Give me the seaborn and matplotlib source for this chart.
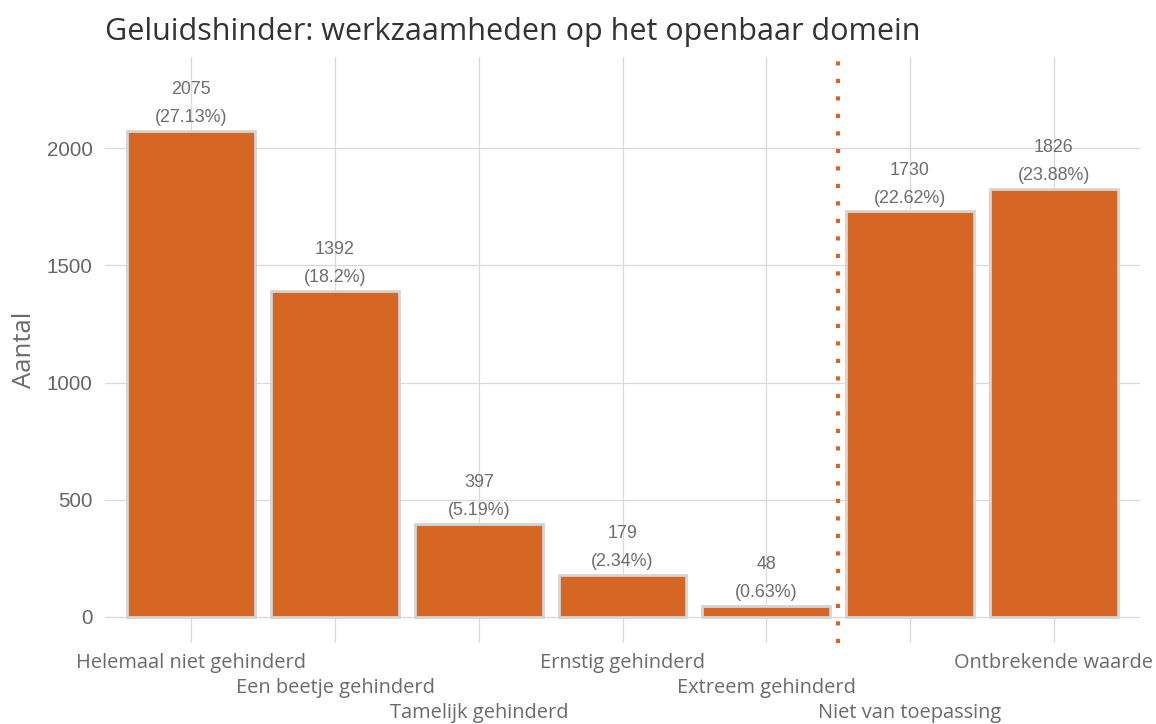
import matplotlib
matplotlib.use("Agg")
import matplotlib.pyplot as plt
import matplotlib.transforms as mtransforms
import seaborn as sns
import pandas as pd

categories = ["Helemaal niet gehinderd", "Een beetje gehinderd", "Tamelijk gehinderd",
              "Ernstig gehinderd", "Extreem gehinderd", "Niet van toepassing",
              "Ontbrekende waarde"]
counts = [2075, 1392, 397, 179, 48, 1730, 1826]
percent_labels = ["27.13%", "18.2%", "5.19%", "2.34%", "0.63%", "22.62%", "23.88%"]
y_ticks = [0, 500, 1000, 1500, 2000]
title = "Geluidshinder: werkzaamheden op het openbaar domein"
y_label = "Aantal"

df = pd.DataFrame({"cat": categories, "n": counts})

sns.set_theme(style="white")
plt.rcParams["font.family"] = ["Open Sans", "DejaVu Sans"]

fig = plt.figure(figsize=(11.56, 7.24), dpi=100)
ax = fig.add_axes([105 / 1156, 1 - 643 / 724, 1035 / 1156, (643 - 57) / 724])

orange = "#D56623"
sns.barplot(data=df, x="cat", y="n", color=orange, saturation=1, width=0.89,
            edgecolor="#d4d4d4", linewidth=2, ax=ax, zorder=3)

ax.set_xlim(-0.6, len(categories) - 0.4)
ax.set_ylim(-111, 2389)
ax.set_yticks(y_ticks)
ax.set_yticklabels([str(v) for v in y_ticks], family="Liberation Sans",
                   fontsize=14.8, color="#666666")
ax.set_xticks(range(len(categories)))
ax.set_xticklabels([])
ax.tick_params(axis="x", length=0)
ax.tick_params(axis="y", length=0, pad=9)

# staggered category labels (three rows)
trans = mtransforms.blended_transform_factory(ax.transData, ax.transAxes)
row_offsets = [20, 45.5, 70]  # pixels below the panel
for i, c in enumerate(categories):
    dy = row_offsets[i % 3] / 100.0
    t = trans + mtransforms.ScaledTranslation(0, -dy, fig.dpi_scale_trans)
    ax.text(i, 0, c, transform=t, ha="center", va="center", fontsize=14.4,
            color="#6b6b6b")

ax.grid(True, color="#dadada", linewidth=0.9, zorder=0)
ax.set_axisbelow(True)
for s in ax.spines.values():
    s.set_visible(False)

ax.axvline(4.5, color=orange, linestyle=(0, (1, 3.2)), linewidth=3, zorder=4)

for i, (v, p) in enumerate(zip(counts, percent_labels)):
    ax.annotate(f"{v}\n({p})", xy=(i, v), xytext=(0, 3.5), textcoords="offset points",
                ha="center", va="bottom", fontsize=12.9, color="#6e6e6e",
                family="Liberation Sans", linespacing=1.85)

ax.set_xlabel("")
ax.set_ylabel(y_label, fontsize=18.5, color="#6b6b6b", labelpad=7)
fig.text(105 / 1156, 1 - 32 / 724, title, fontsize=22, color="#333333",
         ha="left", va="center")

fig.savefig("out.png", dpi=100, facecolor="white")
